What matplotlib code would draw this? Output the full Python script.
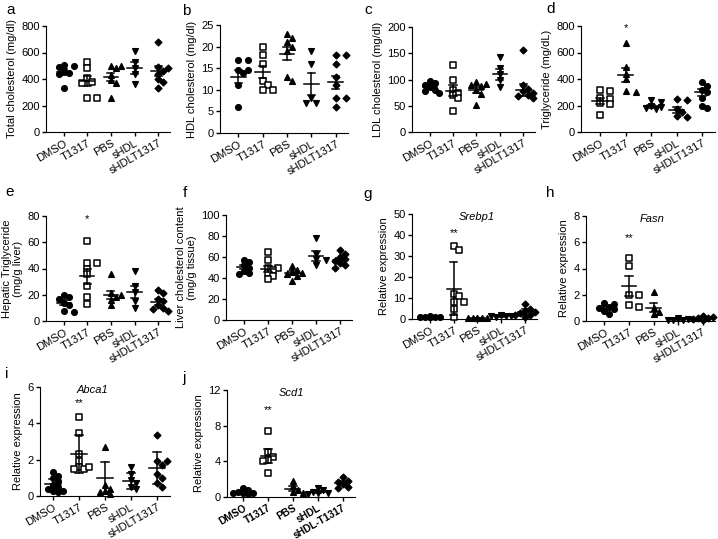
import matplotlib
matplotlib.use("Agg")
import matplotlib.pyplot as plt
import numpy as np

plt.rcParams['font.family'] = ['Liberation Sans', 'DejaVu Sans']
plt.rcParams['font.size'] = 8

groups = ['DMSO', 'T1317', 'PBS', 'sHDL', 'sHDLT1317']
groups_j = ['DMSO', 'T1317', 'PBS', 'sHDL', 'sHDL-T1317']

# values, per panel: five groups each
a_vals = [[505, 500, 490, 460, 445, 440, 335],
          [530, 480, 410, 380, 370, 260, 255],
          [500, 495, 480, 430, 390, 370, 255],
          [610, 530, 480, 440, 360],
          [680, 490, 485, 460, 440, 400, 380, 335]]
a_mean = [452, 385, 415, 482, 457]
a_err = [22, 40, 32, 45, 38]

b_vals = [[17, 17, 14.5, 14.5, 14, 11, 6],
          [20, 18, 16, 12, 11, 10, 10],
          [23, 22, 21, 20, 19, 13, 12],
          [19, 16, 8, 7, 7],
          [18, 18, 16, 13, 11, 8, 8, 6]]
b_mean = [13.0, 14.1, 18.4, 11.3, 11.7]
b_err = [1.5, 1.4, 1.6, 2.6, 1.5]

c_vals = [[97, 93, 90, 85, 80, 78, 75],
          [128, 100, 80, 75, 70, 65, 40],
          [95, 92, 90, 88, 80, 72, 52],
          [142, 122, 110, 100, 85],
          [157, 90, 82, 78, 75, 70, 68, 65]]
c_mean = [85, 79, 80, 110, 80]
c_err = [4, 10, 5, 10, 11]

d_vals = [[320, 310, 260, 250, 220, 210, 130],
          [670, 490, 440, 400, 310, 300],
          [240, 230, 200, 190, 180, 170],
          [250, 240, 170, 150, 120, 110],
          [380, 350, 320, 300, 260, 200, 180]]
d_mean = [235, 430, 195, 165, 300]
d_err = [25, 55, 12, 25, 25]

e_vals = [[20, 18, 17, 14, 12, 8, 7],
          [61, 44, 44, 40, 36, 27, 18, 13],
          [36, 21, 20, 18, 16, 12],
          [38, 27, 22, 15, 10],
          [24, 21, 17, 15, 12, 10, 9, 8]]
e_mean = [14, 34, 20, 22, 14.5]
e_err = [2, 6, 3, 4.5, 2]

f_vals = [[57, 55, 52, 50, 47, 45, 44],
          [65, 57, 50, 50, 48, 45, 42, 39],
          [51, 48, 46, 45, 44, 42, 37],
          [78, 63, 58, 57, 52],
          [67, 63, 60, 58, 56, 54, 52, 50]]
f_mean = [50.5, 48.5, 44.5, 61, 57]
f_err = [2, 3, 1.8, 4.5, 2]

g_vals = [[1.2, 1.1, 1.0, 1.0, 0.9, 0.8, 1.0],
          [35, 33, 12, 11, 8, 8, 5, 1],
          [0.7, 0.6, 0.5, 0.5, 0.4, 0.3],
          [1.8, 1.5, 1.3, 1.2, 1.0],
          [7, 5, 4, 3.5, 3, 2, 2, 1]]
g_mean = [1.0, 14.4, 0.5, 1.3, 3.5]
g_err = [0.2, 12.6, 0.2, 0.3, 1.5]

h_vals = [[1.4, 1.3, 1.1, 1.0, 0.9, 0.8, 0.5],
          [4.8, 4.2, 2.0, 2.0, 1.2, 1.1],
          [2.2, 1.0, 0.7, 0.55],
          [0.2, 0.15, 0.1, 0.1, 0.05],
          [0.4, 0.3, 0.2, 0.2, 0.15, 0.1]]
h_mean = [1.0, 2.65, 1.0, 0.12, 0.22]
h_err = [0.12, 0.75, 0.35, 0.04, 0.05]

i_vals = [[1.3, 1.1, 1.0, 0.8, 0.6, 0.5, 0.4, 0.3, 0.2, 0.3],
          [4.35, 3.45, 2.3, 1.9, 1.6, 1.5, 1.6, 1.5],
          [2.7, 0.6, 0.4, 0.3, 0.2, 0.1],
          [1.6, 1.2, 0.9, 0.7, 0.5, 0.4],
          [3.35, 1.9, 1.9, 1.7, 1.2, 1.0, 0.7, 0.5]]
i_mean = [0.68, 2.3, 0.98, 0.83, 1.55]
i_err = [0.25, 1.05, 0.87, 0.42, 0.87]

j_vals = [[1.0, 0.8, 0.6, 0.5, 0.5, 0.4, 0.3],
          [7.4, 5.0, 4.5, 4.2, 4.0, 2.7],
          [1.8, 1.2, 0.8, 0.6, 0.5],
          [1.0, 0.8, 0.6, 0.5, 0.4, 0.3],
          [2.2, 1.8, 1.7, 1.5, 1.1, 1.0]]
j_mean = [0.6, 4.6, 0.95, 0.55, 1.55]
j_err = [0.1, 0.8, 0.3, 0.12, 0.25]

# marker per group (filled or open)
mk_std = [('o', True), ('s', False), ('^', True), ('v', True), ('D', True)]
mk_d = [('s', False), ('^', True), ('v', True), ('D', True), ('o', True)]

panels = [
    # letter, rect px (left, top, right, bottom), xmin, vals, mean, err, ymax, ystep, ylabel, markers, star, gene
    ('a', (46, 26, 170, 132), -0.75, a_vals, a_mean, a_err, 800, 200, 'Total cholesterol (mg/dl)', mk_std, None, None),
    ('b', (220, 25, 348, 133), -0.75, b_vals, b_mean, b_err, 25, 5, 'HDL cholesterol (mg/dl)', mk_std, None, None),
    ('c', (412, 27, 535, 132), -0.75, c_vals, c_mean, c_err, 200, 50, 'LDL cholesterol (mg/dl)', mk_std, None, None),
    ('d', (581, 26, 715, 132), -0.75, d_vals, d_mean, d_err, 800, 200, 'Triglyceride (mg/dL)', mk_d, ('*', 785), None),
    ('e', (46, 216, 170, 321), -0.75, e_vals, e_mean, e_err, 80, 20, 'Hepatic Triglyceride\n(mg/g liver)', mk_std, ('*', 78), None),
    ('f', (226, 215, 352, 320), -0.75, f_vals, f_mean, f_err, 100, 20, 'Liver cholesterol content\n(mg/g tissue)', mk_std, None, None),
    ('g', (412, 214, 537, 319), -0.75, g_vals, g_mean, g_err, 50, 10, 'Relative expression', mk_std, ('**', 41), ('Srebp1', 1.95)),
    ('h', (586, 216, 715, 321), -0.75, h_vals, h_mean, h_err, 8, 2, 'Relative expression', mk_std, ('**', 6.3), ('Fasn', 1.95)),
    ('i', (40, 387, 170, 496), -0.5, i_vals, i_mean, i_err, 6, 2, 'Relative expression', mk_std, ('**', 5.1), ('Abca1', 1.5)),
    ('j', (227, 390, 355, 497), -0.65, j_vals, j_mean, j_err, 12, 4, 'Relative expression', mk_std, ('**', 9.8), ('Scd1', 1.95)),
]

W, H = 718, 539
fig = plt.figure(figsize=(W / 100, H / 100), dpi=100)


def swarm(vals, ymax, hpx, upx, size=5.5):
    # simple deterministic beeswarm: offsets in category units
    placed = []
    xs = []
    for v in vals:
        y = v / ymax * hpx
        best, bestd = 0.0, -1
        for k in [0, 1, -1, 2, -2]:
            x = k * size * 0.9
            d = min([np.hypot(x - px, y - py) for px, py in placed] or [99])
            if d >= size * 0.95:
                best = x
                break
            if d > bestd:
                best, bestd = x, d
        placed.append((best, y))
        xs.append(best / upx)
    return np.array(xs)


for letter, (l, t, r, b), xmin, vals, mean, err, ymax, ystep, ylabel, mks, star, gene in panels:
    ax = fig.add_axes([l / W, 1 - b / H, (r - l) / W, (b - t) / H])
    xmax = 4.5
    upx = (r - l) / (xmax - xmin)
    for gi, v in enumerate(vals):
        off = swarm(v, ymax, b - t, upx)
        m, filled = mks[gi]
        ax.scatter(gi + off, v, marker=m, s=16 if m != 'D' else 11,
                   facecolors='black' if filled else 'white',
                   edgecolors='black', linewidths=1.1, zorder=3, clip_on=False)
        ax.plot([gi - 0.3, gi + 0.3], [mean[gi], mean[gi]], color='black', lw=1.1, zorder=4)
        ax.plot([gi, gi], [mean[gi] - err[gi], mean[gi] + err[gi]], color='black', lw=1.1, zorder=4)
        for yy in (mean[gi] - err[gi], mean[gi] + err[gi]):
            ax.plot([gi - 0.15, gi + 0.15], [yy, yy], color='black', lw=1.1, zorder=4)
    ax.set_xlim(xmin, xmax)
    ax.set_ylim(0, ymax)
    ax.set_yticks(np.arange(0, ymax + ystep / 2, ystep))
    ax.set_xticks(range(5))
    if letter == 'j':
        ax.set_xticklabels(groups_j, rotation=30, ha='right', rotation_mode='anchor',
                           fontsize=7.3, fontweight='bold')
    else:
        ax.set_xticklabels(groups, rotation=30, ha='right', rotation_mode='anchor', fontsize=8)
    ax.tick_params(axis='both', labelsize=8, length=3, width=1, pad=1.5)
    if letter == 'j':
        ax.tick_params(axis='x', labelsize=7.3, pad=1)
    ax.spines['top'].set_visible(False)
    ax.spines['right'].set_visible(False)
    ax.set_ylabel(ylabel, fontsize=8, labelpad=3, linespacing=1.1)
    if star is not None:
        ax.text(1, star[1], star[0], ha='center', va='center', fontsize=8)
    if gene is not None:
        ax.text(gene[1], ymax * 0.97, gene[0], ha='center', va='center', fontsize=8, style='italic')

letters = {'a': (6, 10), 'b': (182, 11), 'c': (364, 10), 'd': (546, 9),
           'e': (5, 192), 'f': (183, 193), 'g': (363, 194), 'h': (546, 193),
           'i': (5, 374), 'j': (182, 378)}
for k, (x, y) in letters.items():
    fig.text(x / W, 1 - y / H, k, fontsize=11, ha='left', va='center')

fig.savefig('out.png', dpi=100)
